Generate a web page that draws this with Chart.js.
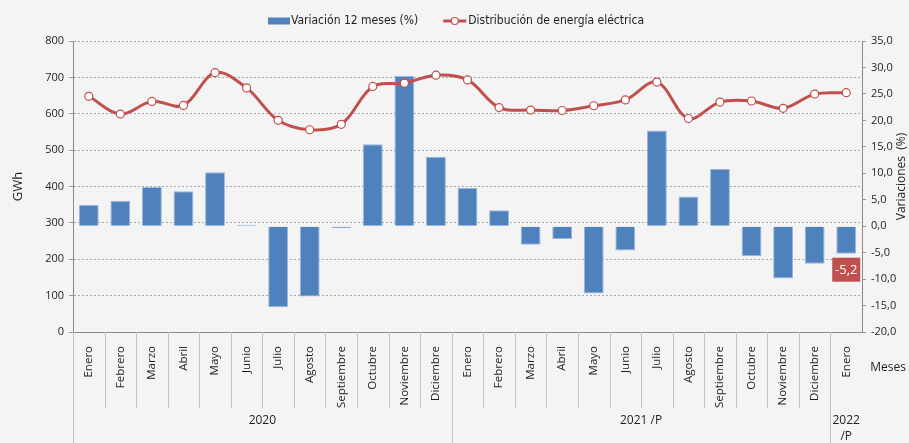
<!DOCTYPE html>
<html lang="es">
<head>
<meta charset="utf-8">
<title>Distribución de energía eléctrica</title>
<script src="https://cdn.jsdelivr.net/npm/chart.js@4.4.1/dist/chart.umd.min.js"></script>
<style>
  html, body { margin: 0; padding: 0; background: #f4f4f4; }
</style>
</head>
<body>
<canvas id="chart" width="909" height="443"></canvas>
<script>
// datos
const meses = ["Enero", "Febrero", "Marzo", "Abril", "Mayo", "Junio", "Julio", "Agosto",
  "Septiembre", "Octubre", "Noviembre", "Diciembre",
  "Enero", "Febrero", "Marzo", "Abril", "Mayo", "Junio", "Julio", "Agosto",
  "Septiembre", "Octubre", "Noviembre", "Diciembre", "Enero"];
const anios = ["2020", "2021 /P", "2022 /P"];
const mesesPorAnio = [12, 12, 1];

// GWh
const distribucion = [648, 599, 634, 623, 713, 671, 582, 556, 571, 675, 684, 706,
  693, 617, 610, 609, 622, 638, 687, 587, 632, 635, 615, 654, 658];
// %
const variacion = [4.0, 4.8, 7.4, 6.6, 10.2, 0.2, -15.3, -13.3, -0.4, 15.5, 28.4, 13.1,
  7.2, 3.0, -3.5, -2.4, -12.7, -4.6, 18.1, 5.6, 10.8, -5.7, -9.9, -7.1, -5.2];

const ticksGWh = { min: 0, max: 800, step: 100 };
const ticksVar = { min: -20, max: 35, step: 5 };

const AZUL = "#4f81bd";
const ROJO = "#c0504d";
const TEXTO = "#1e1e1e";
const FUENTE = "'Open Sans', 'DejaVu Sans', sans-serif";
const FUENTE_LEYENDA = "'Liberation Sans Narrow', 'DejaVu Sans Condensed', sans-serif";

const coma = v => v.toFixed(1).replace(".", ",");

// fondo, leyenda, separadores, años y textos de ejes
const decor = {
  id: "decor",
  beforeDraw(chart) {
    const { ctx, width, height } = chart;
    ctx.save();
    ctx.fillStyle = "#f4f4f4";
    ctx.fillRect(0, 0, width, height);
    ctx.restore();
  },
  afterDraw(chart) {
    const { ctx, chartArea, height, scales: { x } } = chart;
    const paso = x.getPixelForValue(1) - x.getPixelForValue(0);
    ctx.save();

    // separadores de categorias
    const cortes = [0];
    mesesPorAnio.forEach(n => cortes.push(cortes[cortes.length - 1] + n));
    ctx.strokeStyle = "#c4c4c4";
    ctx.lineWidth = 1;
    for (let i = 0; i < meses.length; i++) {
      const bx = Math.round(x.getPixelForValue(i) - paso / 2) + 0.5;
      const fin = cortes.includes(i) ? height : chartArea.bottom + 76;
      ctx.beginPath();
      ctx.moveTo(bx, chartArea.bottom);
      ctx.lineTo(bx, fin);
      ctx.stroke();
    }

    // años
    ctx.fillStyle = TEXTO;
    ctx.font = "12px " + FUENTE;
    ctx.textAlign = "center";
    ctx.textBaseline = "middle";
    anios.forEach((a, k) => {
      const x0 = x.getPixelForValue(cortes[k]) - paso / 2;
      const x1 = x.getPixelForValue(cortes[k + 1] - 1) + paso / 2;
      const cx = (x0 + x1) / 2;
      const lineas = ctx.measureText(a).width > x1 - x0 - 4 ? a.split(" ") : [a];
      lineas.forEach((l, j) => ctx.fillText(l, cx, chartArea.bottom + 89 + j * 16));
    });

    ctx.fillText("Meses", 888, chartArea.bottom + 36);

    // titulos de ejes
    ctx.font = "13px " + FUENTE;
    ctx.save();
    ctx.translate(18, (chartArea.top + chartArea.bottom) / 2);
    ctx.rotate(-Math.PI / 2);
    ctx.fillText("GWh", 0, 0);
    ctx.restore();
    ctx.font = "12px " + FUENTE;
    ctx.save();
    ctx.translate(902, (chartArea.top + chartArea.bottom) / 2 - 10);
    ctx.rotate(-Math.PI / 2);
    ctx.fillText("Variaciones  (%)", 0, 0);
    ctx.restore();

    // etiqueta del ultimo dato
    const bar = chart.getDatasetMeta(0).data[variacion.length - 1];
    ctx.fillStyle = ROJO;
    ctx.fillRect(bar.x - 14, bar.y + 4, 28, 24);
    ctx.fillStyle = "#ffffff";
    ctx.font = "13px " + FUENTE;
    ctx.fillText(coma(variacion[variacion.length - 1]), bar.x, bar.y + 16.5);

    // leyenda
    ctx.font = "12px " + FUENTE_LEYENDA;
    const t1 = chart.data.datasets[0].label;
    const t2 = chart.data.datasets[1].label;
    const w1 = 23 + ctx.measureText(t1).width;
    const w2 = 25 + ctx.measureText(t2).width;
    let lx = 456 - (w1 + 25 + w2) / 2;
    const ly = 21;
    ctx.fillStyle = AZUL;
    ctx.fillRect(lx, ly - 3.5, 22, 7);
    ctx.fillStyle = TEXTO;
    ctx.textAlign = "left";
    ctx.fillText(t1, lx + 23, ly);
    lx += w1 + 25;
    ctx.strokeStyle = ROJO;
    ctx.lineWidth = 3;
    ctx.beginPath();
    ctx.moveTo(lx, ly);
    ctx.lineTo(lx + 23, ly);
    ctx.stroke();
    ctx.fillStyle = "#ffffff";
    ctx.lineWidth = 1.2;
    ctx.beginPath();
    ctx.arc(lx + 11.5, ly, 3.5, 0, Math.PI * 2);
    ctx.fill();
    ctx.stroke();
    ctx.fillStyle = TEXTO;
    ctx.fillText(t2, lx + 25, ly);

    ctx.restore();
  }
};

new Chart(document.getElementById("chart"), {
  data: {
    labels: meses,
    datasets: [
      {
        type: "bar",
        label: "Variación 12 meses (%)",
        data: variacion,
        yAxisID: "y1",
        backgroundColor: AZUL,
        borderColor: "#9bb7dc",
        borderWidth: 1,
        barPercentage: 0.63,
        categoryPercentage: 1,
        order: 2
      },
      {
        type: "line",
        label: "Distribución de energía eléctrica",
        data: distribucion,
        yAxisID: "y",
        borderColor: ROJO,
        borderWidth: 3,
        tension: 0.35,
        pointRadius: 4,
        pointBackgroundColor: "#ffffff",
        pointBorderColor: ROJO,
        pointBorderWidth: 1.2,
        order: 1
      }
    ]
  },
  options: {
    responsive: false,
    devicePixelRatio: 1,
    animation: false,
    layout: { padding: { top: 41, left: 0, right: 0, bottom: 0 } },
    plugins: {
      legend: { display: false },
      tooltip: { enabled: false }
    },
    scales: {
      x: {
        offset: true,
        grid: { display: false },
        border: { display: true, color: "#8a8a8a" },
        ticks: {
          autoSkip: false,
          minRotation: 90,
          maxRotation: 90,
          padding: 6,
          color: TEXTO,
          font: { family: FUENTE, size: 11.5 }
        },
        afterFit: s => { s.height = 111; }
      },
      y: {
        position: "left",
        min: ticksGWh.min,
        max: ticksGWh.max,
        grid: { color: "#a8a8a8", tickLength: 4, tickColor: "#9a9a9a" },
        border: { color: "#8a8a8a", dash: [2, 2] },
        ticks: {
          stepSize: ticksGWh.step,
          padding: 5,
          color: TEXTO,
          font: { family: FUENTE, size: 11 }
        },
        afterFit: s => { s.width = 73; }
      },
      y1: {
        position: "right",
        min: ticksVar.min,
        max: ticksVar.max,
        grid: { drawOnChartArea: false, tickLength: 4, tickColor: "#9a9a9a" },
        border: { color: "#8a8a8a" },
        ticks: {
          stepSize: ticksVar.step,
          padding: 5,
          color: TEXTO,
          font: { family: FUENTE, size: 11 },
          callback: v => coma(v)
        },
        afterFit: s => { s.width = 47; }
      }
    }
  },
  plugins: [decor]
});
</script>
</body>
</html>
